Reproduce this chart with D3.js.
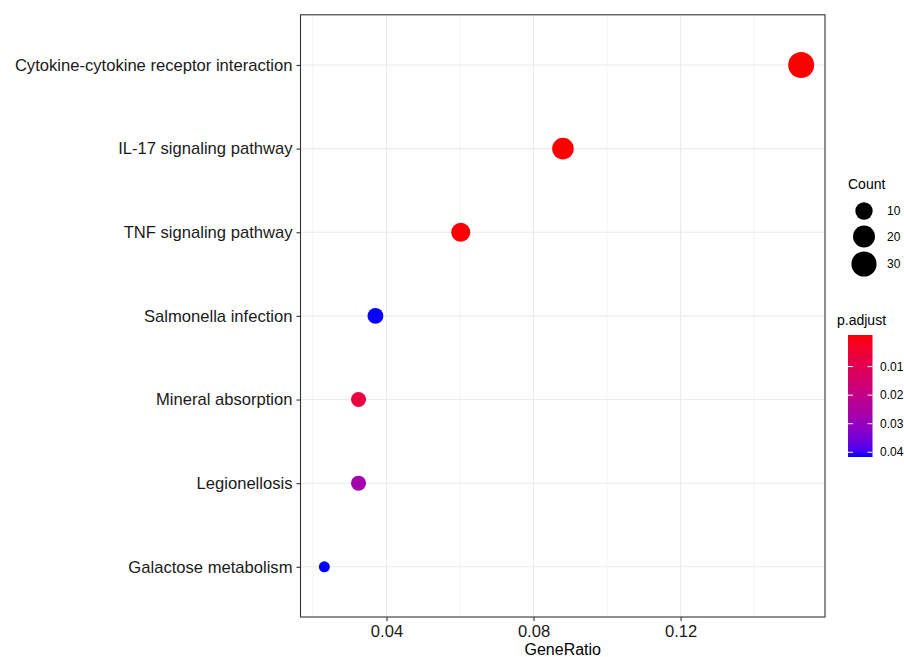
<!DOCTYPE html>
<html>
<head>
<meta charset="utf-8">
<script src="https://cdn.jsdelivr.net/npm/d3@7"></script>
<style>
  body { margin: 0; background: #fff; }
  svg { font-family: "Liberation Sans", Arial, sans-serif; }
</style>
</head>
<body>
<svg id="chart" width="904" height="657"></svg>
<script>
// KEGG enrichment dotplot
const pathways = [
    "Cytokine-cytokine receptor interaction",
    "IL-17 signaling pathway",
    "TNF signaling pathway",
    "Salmonella infection",
    "Mineral absorption",
    "Legionellosis",
    "Galactose metabolism"
];
const geneRatio = [0.1528, 0.0880, 0.0602, 0.0370, 0.0324, 0.0324, 0.0231];
const counts = [33, 19, 13, 8, 7, 7, 5];
const pAdjust = [0.00000001, 0.000001, 0.0002, 0.0405, 0.0075, 0.027, 0.0406];

const xTicks = [0.04, 0.08, 0.12];
const xMinor = [0.02, 0.06, 0.10, 0.14];
const sizeBreaks = [10, 20, 30];
const colorBreaks = [0.01, 0.02, 0.03, 0.04];

const svg = d3.select("#chart");
const panel = { left: 300.5, right: 825, top: 14.8, bottom: 617 };

// ggplot style 5% expansion on the x range
const xMin = d3.min(geneRatio), xMax = d3.max(geneRatio);
const pad = (xMax - xMin) * 0.05;
const x = d3.scaleLinear()
    .domain([xMin - pad, xMax + pad])
    .range([panel.left, panel.right]);

const y = d3.scalePoint()
    .domain(pathways)
    .range([panel.top, panel.bottom])
    .padding(0.6);

const cMin = d3.min(counts), cMax = d3.max(counts);
const radius = d3.scaleSqrt()
    .domain([0, cMax - cMin])
    .range([5.5, 13]);
const r = c => radius(Math.max(0, c - cMin));

const pMin = 0, pMax = 0.0406;
const color = d3.scaleLinear()
    .domain([pMin, pMax])
    .range(["#ff0000", "#0000ff"])
    .interpolate(d3.interpolateLab);

// grid
const grid = svg.append("g");
grid.selectAll(".minor")
    .data(xMinor)
    .enter()
    .append("line")
    .attr("x1", d => x(d)).attr("x2", d => x(d))
    .attr("y1", panel.top).attr("y2", panel.bottom)
    .attr("stroke", "#ebebeb")
    .attr("stroke-width", 0.6);
grid.selectAll(".major")
    .data(xTicks)
    .enter()
    .append("line")
    .attr("x1", d => x(d)).attr("x2", d => x(d))
    .attr("y1", panel.top).attr("y2", panel.bottom)
    .attr("stroke", "#ebebeb")
    .attr("stroke-width", 1.1);
grid.selectAll(".ymajor")
    .data(pathways)
    .enter()
    .append("line")
    .attr("x1", panel.left).attr("x2", panel.right)
    .attr("y1", d => y(d)).attr("y2", d => y(d))
    .attr("stroke", "#ebebeb")
    .attr("stroke-width", 1.1);

// dots
svg.append("g")
    .selectAll("circle")
    .data(pathways)
    .enter()
    .append("circle")
    .attr("cx", (d, i) => x(geneRatio[i]))
    .attr("cy", d => y(d))
    .attr("r", (d, i) => r(counts[i]))
    .attr("fill", (d, i) => color(pAdjust[i]));

// border
svg.append("rect")
    .attr("x", panel.left).attr("y", panel.top)
    .attr("width", panel.right - panel.left)
    .attr("height", panel.bottom - panel.top)
    .attr("fill", "none")
    .attr("stroke", "#333333")
    .attr("stroke-width", 1.1);

// axes
const xAxis = svg.append("g")
    .attr("transform", "translate(0," + panel.bottom + ")")
    .call(d3.axisBottom(x).tickValues(xTicks).tickFormat(d3.format(".2f")).tickSize(4).tickPadding(4));
const yAxis = svg.append("g")
    .attr("transform", "translate(" + panel.left + ",0)")
    .call(d3.axisLeft(y).tickSize(4).tickPadding(4));

[xAxis, yAxis].forEach(a => {
    a.select(".domain").remove();
    a.selectAll(".tick line").attr("stroke", "#333333").attr("stroke-width", 1.1);
    a.selectAll(".tick text").attr("fill", "#1a1a1a").style("font-size", "16.6px");
});
xAxis.selectAll(".tick text").attr("dy", "0.72em");

svg.append("text")
    .attr("x", (panel.left + panel.right) / 2)
    .attr("y", 655)
    .attr("text-anchor", "middle")
    .style("font-size", "16px")
    .attr("fill", "#000")
    .text("GeneRatio");

// size legend
const legX = 848;
svg.append("text")
    .attr("x", legX).attr("y", 189)
    .style("font-size", "14px")
    .text("Count");
const sizeY = [211, 236.5, 264];
svg.append("g")
    .selectAll("circle")
    .data(sizeBreaks)
    .enter()
    .append("circle")
    .attr("cx", 864)
    .attr("cy", (d, i) => sizeY[i])
    .attr("r", d => r(d))
    .attr("fill", "#000");
svg.append("g")
    .selectAll("text")
    .data(sizeBreaks)
    .enter()
    .append("text")
    .attr("x", 887)
    .attr("y", (d, i) => sizeY[i] + 4)
    .style("font-size", "12px")
    .text(d => d);

// colour bar legend
svg.append("text")
    .attr("x", 837).attr("y", 325)
    .style("font-size", "14px")
    .text("p.adjust");

const bar = { x: 848, y: 335, w: 24.5, h: 122 };
const defs = svg.append("defs");
const grad = defs.append("linearGradient")
    .attr("id", "pgrad")
    .attr("x1", 0).attr("y1", 0).attr("x2", 0).attr("y2", 1);
d3.range(0, 1.0001, 0.05).forEach(t => {
    grad.append("stop")
        .attr("offset", t)
        .attr("stop-color", color(pMin + t * (pMax - pMin)));
});
svg.append("rect")
    .attr("x", bar.x).attr("y", bar.y)
    .attr("width", bar.w).attr("height", bar.h)
    .attr("fill", "url(#pgrad)");

const inset = bar.h / 40;
const pScale = d3.scaleLinear()
    .domain([pMin, pMax])
    .range([bar.y + inset, bar.y + bar.h - inset]);

const cb = svg.append("g");
colorBreaks.forEach(b => {
    const yy = pScale(b);
    cb.append("line")
        .attr("x1", bar.x).attr("x2", bar.x + 5)
        .attr("y1", yy).attr("y2", yy)
        .attr("stroke", "#fff").attr("stroke-width", 1);
    cb.append("line")
        .attr("x1", bar.x + bar.w - 5).attr("x2", bar.x + bar.w)
        .attr("y1", yy).attr("y2", yy)
        .attr("stroke", "#fff").attr("stroke-width", 1);
    cb.append("text")
        .attr("x", 880)
        .attr("y", yy + 4)
        .style("font-size", "12px")
        .text(d3.format(".2f")(b));
});
</script>
</body>
</html>
